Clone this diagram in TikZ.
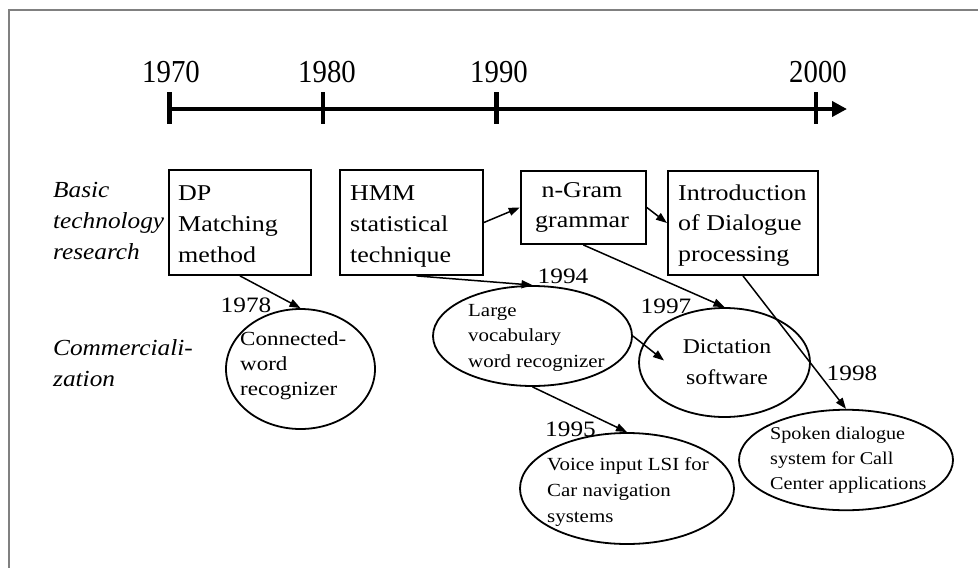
\documentclass[tikz,border=0pt]{standalone}
\usepackage{fontspec}
\setmainfont{Liberation Serif}
\usepackage{graphicx}
\usetikzlibrary{shapes.geometric,arrows.meta}
\newcommand{\ml}[5]{\scalebox{#1}[1]{\fontsize{#2}{#3}\selectfont\begin{tabular}[t]{@{}#4@{}}#5\end{tabular}}}
\begin{document}
\begin{tikzpicture}[x=1pt,y=-1pt,
 box/.style={draw,line width=1.8pt,rectangle,inner sep=0pt},
 oval/.style={draw,line width=1.8pt,ellipse,inner sep=0pt},
 txt/.style={inner sep=0pt,anchor=base west},
 ctxt/.style={inner sep=0pt,anchor=base},
 conn/.style={line width=1.5pt,-{Triangle[length=11pt,width=8pt]}},
 tick/.style={line width=4.5pt}]
\useasboundingbox (0,0) rectangle (978,568);
\draw[gray,line width=1.5pt] (9,568) -- (9,10) -- (978,10);
% timeline
\coordinate (t70) at (169.5,109);
\coordinate (t80) at (323,109);
\coordinate (t90) at (496.7,109);
\coordinate (t00) at (816,109);
\coordinate (tend) at (847,109);
\draw[line width=4.5pt,-{Triangle[length=15pt,width=15pt]}] (t70) -- (tend);
\foreach \t in {t70,t80,t90,t00}{\draw[tick] ([yshift=17pt]\t) -- ([yshift=-15pt]\t);}
\node[ctxt] (y70) at (171,82) {\ml{0.9}{32}{32}{c}{1970}};
\node[ctxt] (y80) at (327,82) {\ml{0.9}{32}{32}{c}{1980}};
\node[ctxt] (y90) at (499,82) {\ml{0.9}{32}{32}{c}{1990}};
\node[ctxt] (y00) at (818,82) {\ml{0.9}{32}{32}{c}{2000}};
% row labels
\node[txt] (basic) at (53,197) {\itshape\ml{1.1}{23}{31}{l}{Basic\\technology\\research}};
\node[txt] (comm) at (53,355) {\itshape\ml{1.1}{23}{31}{l}{Commerciali-\\zation}};
% boxes
\node[box,minimum width=141.4pt,minimum height=105pt] (dp) at (240,222.5) {};
\node[box,minimum width=143pt,minimum height=105pt] (hmm) at (411.5,222.5) {};
\node[box,minimum width=125.3pt,minimum height=73pt] (ngram) at (583.3,207.5) {};
\node[box,minimum width=150.3pt,minimum height=104pt] (intro) at (743,223) {};
\node[txt] (dpt) at (178,200) {\ml{1.15}{22.6}{31}{l}{DP\\Matching\\method}};
\node[txt] (hmmt) at (350,200) {\ml{1.15}{22.6}{31}{l}{HMM\\statistical\\technique}};
\node[ctxt] (ngramt) at (582,197) {\ml{1.15}{22.6}{30}{c}{n-Gram\\grammar}};
\node[txt] (introt) at (678,200) {\ml{1.15}{22.6}{30.5}{l}{Introduction\\of Dialogue\\processing}};
% ellipses
\node[oval,minimum width=149pt,minimum height=120pt] (conn) at (300.5,369) {};
\node[oval,minimum width=199pt,minimum height=100pt] (large) at (532.5,336) {};
\node[oval,minimum width=171pt,minimum height=109pt] (dict) at (724.5,362.5) {};
\node[oval,minimum width=214pt,minimum height=111pt] (voice) at (627,488.5) {};
\node[oval,minimum width=214pt,minimum height=100.5pt] (spoken) at (846,460) {};
\node[txt] (connt) at (240,345) {\ml{1.15}{20}{25}{l}{Connected-\\word\\recognizer}};
\node[txt] (larget) at (468,316) {\ml{1.13}{18.5}{25.5}{l}{Large\\vocabulary\\word recognizer}};
\node[ctxt] (dictt) at (727,353) {\ml{1.13}{21}{31}{c}{Dictation\\software}};
\node[txt] (voicet) at (547,470) {\ml{1.13}{18.5}{26}{l}{Voice input LSI for\\Car navigation\\systems}};
\node[txt] (spokent) at (770,439.5) {\ml{1.12}{18}{25}{l}{Spoken dialogue\\system for Call\\Center applications}};
% year labels
\node[ctxt] (l78) at (246,312) {\ml{1.15}{22}{22}{c}{1978}};
\node[ctxt] (l94) at (563,283) {\ml{1.15}{22}{22}{c}{1994}};
\node[ctxt] (l97) at (666,313) {\ml{1.15}{22}{22}{c}{1997}};
\node[ctxt] (l98) at (852,380) {\ml{1.15}{22}{22}{c}{1998}};
\node[ctxt] (l95) at (570.5,436) {\ml{1.15}{22}{22}{c}{1995}};
% connectors
\coordinate (dictin) at (664,360.5);
\draw[conn] (dp.south) -- (conn.north);
\draw[conn] (hmm.east) -- (ngram.west);
\draw[conn] (ngram.east) -- (intro.west);
\draw[conn] ([xshift=5pt]hmm.south) -- (large.north);
\draw[conn] (ngram.south) -- (dict.north);
\draw[conn] (intro.south) -- (spoken.north);
\draw[conn] (large.east) -- (dictin);
\draw[conn] (large.south) -- (voice.north);
\end{tikzpicture}
\end{document}
